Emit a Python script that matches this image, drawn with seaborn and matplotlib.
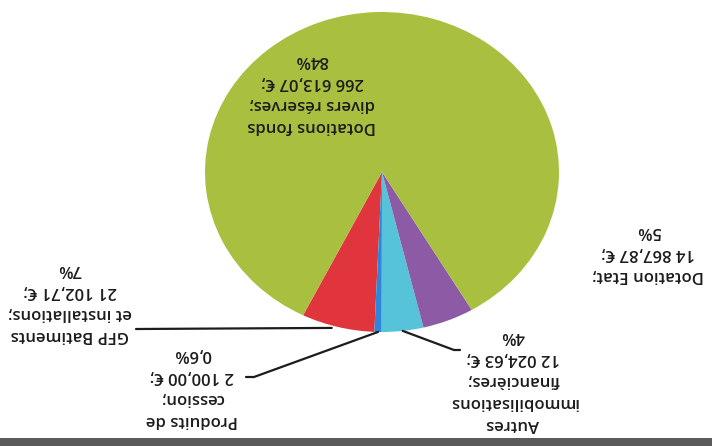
import numpy as np
import matplotlib
matplotlib.use('Agg')
import matplotlib.pyplot as plt
import seaborn as sns

# data (the scan is upside down, so everything is drawn rotated 180 degrees)
labels = ['GFP Batiments\net installations;', 'Produits de\ncession;', 'Autres\nimmobilisations\nfinancières;',
          'Dotation Etat;', 'Dotations fonds\ndivers réserves;']
amounts = [21102.71, 2100.00, 12024.63, 14867.87, 266613.07]
amount_txt = ['21 102,71 €;', '2 100,00 €;', '12 024,63 €;', '14 867,87 €;', '266 613,07 €;']
pct_txt = ['7%', '0,6%', '4%', '5%', '84%']
colors = ['#e0353d', '#2f86d6', '#56c3db', '#8d5ba6', '#a9bf3f']

W, H = 712, 446
# pie centre and radii in pixels (pie is a bit squashed in the scan)
cx, cy, rx, ry = 382, 172, 177, 160

sns.set_theme(style='white')
plt.rcParams['font.family'] = ['Open Sans', 'DejaVu Sans']

fig = plt.figure(figsize=(W / 100, H / 100), dpi=100)
ax = fig.add_axes([0, 0, 1, 1])

small_total = sum(amounts[:4]) / sum(amounts) * 360
start = 272 - small_total / 2
wedges, _ = ax.pie(amounts, colors=colors, startangle=start, counterclock=True,
                   wedgeprops=dict(linewidth=0))
ax.set_aspect('auto')
ax.set_xlim((0 - cx) / rx, (W - cx) / rx)
ax.set_ylim((cy - H) / ry, cy / ry)
ax.axis('off')


def px(x, y):
    return x / W, 1 - y / H


# label block centres (pixels) and leader line elbow points
label_pos = [(70, 302), (192, 387), (513, 380), (648, 253), (312, 93)]
leader_end = [(136, 329), (246, 377), (460, 350), None, None]

for i, w in enumerate(wedges):
    txt = labels[i] + '\n' + amount_txt[i] + '\n' + pct_txt[i]
    x, y = px(*label_pos[i])
    fig.text(x, y, txt, rotation=180, ha='center', va='center', multialignment='center',
             fontsize=12, fontweight='semibold', color='#1c1c1c', linespacing=1.52)
    if leader_end[i] is not None:
        mid = np.deg2rad((w.theta1 + w.theta2) / 2)
        ex, ey = cx + rx * np.cos(mid), cy - ry * np.sin(mid)
        lx, ly = leader_end[i]
        if i == 0:
            pts = [(ex - 6, ey + 1), (lx, ly)]
        elif i == 1:
            pts = [(ex, ey), (lx + 8, ly), (lx, ly)]
        else:
            pts = [(ex, ey), (lx - 6, ly), (lx, ly)]
        xs, ys = zip(*[px(a, b) for a, b in pts])
        fig.add_artist(plt.Line2D(xs, ys, color='#1c1c1c', lw=1.6))

# dark edge of the scanned page at the bottom
fig.add_artist(plt.Rectangle((0, 0), 1, 8 / H, transform=fig.transFigure, color='#5a5a5a', lw=0))

fig.savefig('out.png', dpi=100)
